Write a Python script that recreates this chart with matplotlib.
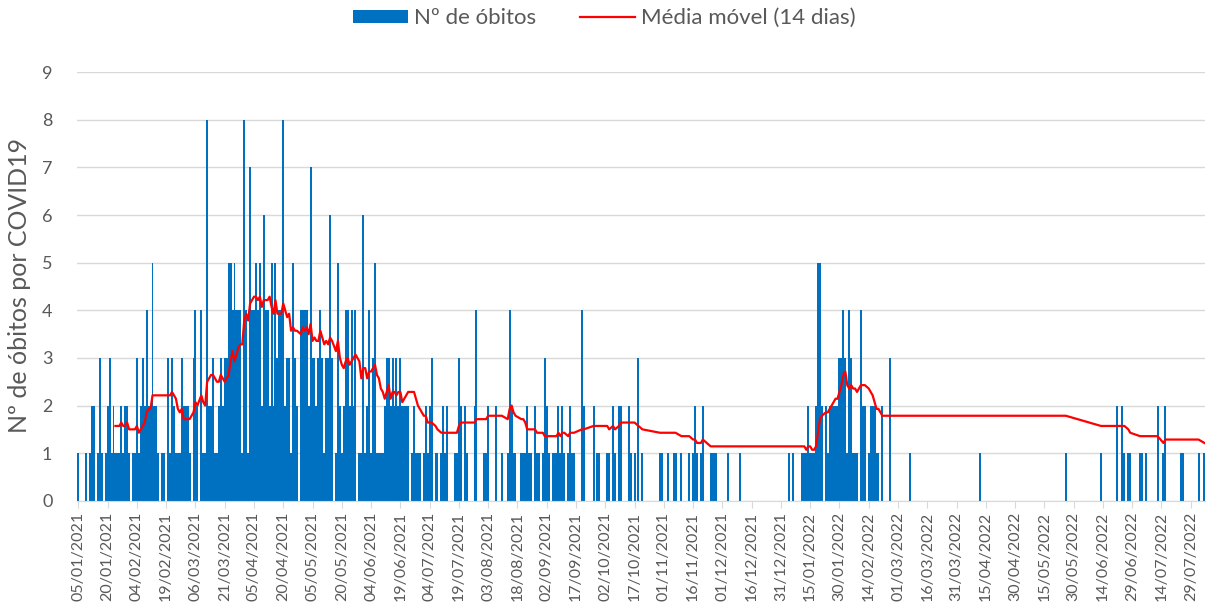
import pandas as pd
import numpy as np
import matplotlib
matplotlib.use("Agg")
import matplotlib.pyplot as plt
from matplotlib.patches import Patch
from matplotlib.lines import Line2D

plt.rcParams['font.family'] = ['Lato', 'DejaVu Sans']

start_date = "2021-01-05"

# daily number of deaths, one list per month (first list starts on 05/01/2021)
jan21 = [1, 0, 0, 0, 1, 0, 1, 2, 2, 0, 1, 3, 1, 0, 1, 2, 3, 1, 2, 1, 1, 1, 2, 1, 2, 2, 1]
feb21 = [0, 1, 1, 3, 1, 2, 3, 2, 4, 2, 2, 5, 2, 2, 1, 0, 1, 1, 0, 3, 1, 3, 2, 1, 1, 1, 3, 2]
mar21 = [2, 2, 1, 0, 3, 4, 2, 0, 4, 1, 1, 8, 2, 2, 3, 1, 1, 2, 3, 2, 3, 3, 5, 5, 4, 5, 4, 4, 4, 1, 8]
apr21 = [4, 1, 7, 4, 4, 5, 4, 5, 2, 6, 4, 4, 2, 5, 2, 5, 3, 4, 4, 8, 2, 3, 3, 1, 5, 3, 2, 0, 4, 4]
may21 = [4, 4, 2, 7, 3, 3, 2, 3, 4, 3, 1, 3, 3, 6, 3, 0, 1, 5, 2, 1, 2, 4, 4, 2, 4, 2, 4, 0, 1, 1, 6]
jun21 = [1, 2, 4, 1, 3, 5, 1, 1, 1, 1, 2, 3, 3, 2, 3, 2, 3, 2, 3, 2, 2, 2, 2, 0, 1, 2, 1, 1, 1, 0]
jul21 = [1, 2, 1, 2, 3, 0, 1, 1, 0, 1, 2, 1, 2, 0, 0, 0, 1, 1, 3, 2, 0, 2, 1, 0, 0, 0, 2, 4, 0, 0, 0]
aug21 = [1, 1, 2, 0, 0, 0, 2, 0, 0, 1, 0, 0, 1, 4, 2, 1, 1, 0, 0, 1, 1, 1, 2, 1, 1, 0, 2, 1, 1, 0, 1]
sep21 = [3, 2, 1, 0, 1, 1, 1, 2, 1, 2, 1, 0, 1, 2, 1, 1, 0, 0, 0, 4, 2, 0, 0, 0, 0, 2, 0, 1, 1, 0]
oct21 = [0, 0, 1, 1, 0, 2, 1, 0, 2, 2, 0, 0, 0, 2, 1, 0, 1, 0, 3, 0, 1, 0, 0, 0, 0, 0, 0, 0, 0, 1, 1]
nov21 = [0, 0, 1, 0, 0, 1, 1, 0, 0, 1, 0, 0, 0, 1, 0, 1, 2, 1, 0, 1, 2, 0, 0, 0, 1, 1, 1, 1, 0, 0]
dec21 = [0, 0, 0, 1, 0, 0, 0, 0, 0, 1, 0, 0, 0, 0, 0, 0, 0, 0, 0, 0, 0, 0, 0, 0, 0, 0, 0, 0, 0, 0, 0]
jan22 = [0, 0, 0, 1, 0, 1, 0, 0, 0, 0, 1, 1, 1, 2, 1, 1, 1, 2, 5, 5, 2, 0, 2, 1, 2, 2, 2, 2, 2, 3, 3]
feb22 = [4, 3, 1, 4, 3, 1, 1, 1, 0, 4, 2, 2, 0, 1, 2, 2, 2, 1, 1, 0, 2, 0, 0, 0, 3, 0, 0, 0]
mar22 = [0, 0, 0, 0, 0, 0, 1, 0, 0, 0, 0, 0, 0, 0, 0, 0, 0, 0, 0, 0, 0, 0, 0, 0, 0, 0, 0, 0, 0, 0, 0]
apr22 = [0, 0, 0, 0, 0, 0, 0, 0, 0, 0, 0, 1, 0, 0, 0, 0, 0, 0, 0, 0, 0, 0, 0, 0, 0, 0, 0, 0, 0, 0]
may22 = [0, 0, 0, 0, 0, 0, 0, 0, 0, 0, 0, 0, 0, 0, 0, 0, 0, 0, 0, 0, 0, 0, 0, 0, 0, 1, 0, 0, 0, 0, 0]
jun22 = [0, 0, 0, 0, 0, 0, 0, 0, 0, 0, 0, 0, 1, 0, 0, 0, 0, 0, 0, 0, 2, 0, 0, 2, 1, 0, 1, 1, 0, 0]
jul22 = [0, 0, 1, 1, 0, 1, 0, 0, 0, 0, 0, 2, 0, 0, 1, 2, 0, 0, 0, 0, 0, 0, 0, 1, 1, 0, 0, 0, 0, 0, 0]
aug22 = [0, 1, 0, 0, 1]

tick_labels = ["05/01/2021", "20/01/2021", "04/02/2021", "19/02/2021", "06/03/2021",
               "21/03/2021", "05/04/2021", "20/04/2021", "05/05/2021", "20/05/2021",
               "04/06/2021", "19/06/2021", "04/07/2021", "19/07/2021", "03/08/2021",
               "18/08/2021", "02/09/2021", "17/09/2021", "02/10/2021", "17/10/2021",
               "01/11/2021", "16/11/2021", "01/12/2021", "16/12/2021", "31/12/2021",
               "15/01/2022", "30/01/2022", "14/02/2022", "01/03/2022", "16/03/2022",
               "31/03/2022", "15/04/2022", "30/04/2022", "15/05/2022", "30/05/2022",
               "14/06/2022", "29/06/2022", "14/07/2022", "29/07/2022"]

deaths = (jan21 + feb21 + mar21 + apr21 + may21 + jun21 + jul21 + aug21 + sep21
          + oct21 + nov21 + dec21 + jan22 + feb22 + mar22 + apr22 + may22 + jun22
          + jul22 + aug22)
dates = pd.date_range(start_date, periods=len(deaths), freq="D")
s = pd.Series(deaths, index=dates)

# moving average over the last 14 records (days with deaths)
rows = s[s > 0]
ma = rows.rolling(14).mean().dropna()

fig = plt.figure(figsize=(12.09, 6.07), dpi=100)
ax = fig.add_axes([0.064, 0.175, 0.933, 0.706])

ax.bar(dates, deaths, width=1.0, color="#0070C0", linewidth=0, zorder=2)
ax.plot(ma.index, ma.values, color="#FF0000", lw=1.6, zorder=3)

half = pd.Timedelta(hours=12)
ax.set_xlim(dates[0] - half, dates[-1] + half)
ax.set_ylim(0, 9)
ax.set_yticks(range(10))
ax.yaxis.grid(True, color="#D9D9D9", lw=1)
ax.set_axisbelow(True)

ticks = pd.to_datetime(tick_labels, dayfirst=True)
ax.set_xticks(ticks)
ax.set_xticklabels(tick_labels, rotation=90, fontsize=11.5, color="#595959")
ax.tick_params(axis="x", length=5, color="#D9D9D9", pad=3)
ax.tick_params(axis="y", length=0, labelsize=13, labelcolor="#595959", pad=18)

for side in ["top", "right", "left"]:
    ax.spines[side].set_visible(False)
ax.spines["bottom"].set_color("#D9D9D9")

fig.text(0.0165, 1 - 285 / 607, "Nº de óbitos por COVID19", rotation=90,
         ha="center", va="center", fontsize=18, color="#595959")

handles = [Patch(facecolor="#0070C0", edgecolor="none"),
           Line2D([0], [0], color="#FF0000", lw=1.6)]
fig.legend(handles, ["Nº de óbitos", "Média móvel (14 dias)"], loc="center",
           bbox_to_anchor=(0.5, 0.97), ncol=2, frameon=False, fontsize=16,
           handlelength=2.5, handleheight=0.55, handletextpad=0.27,
           columnspacing=1.95, labelcolor="#595959")

fig.savefig("out.png", dpi=100)
